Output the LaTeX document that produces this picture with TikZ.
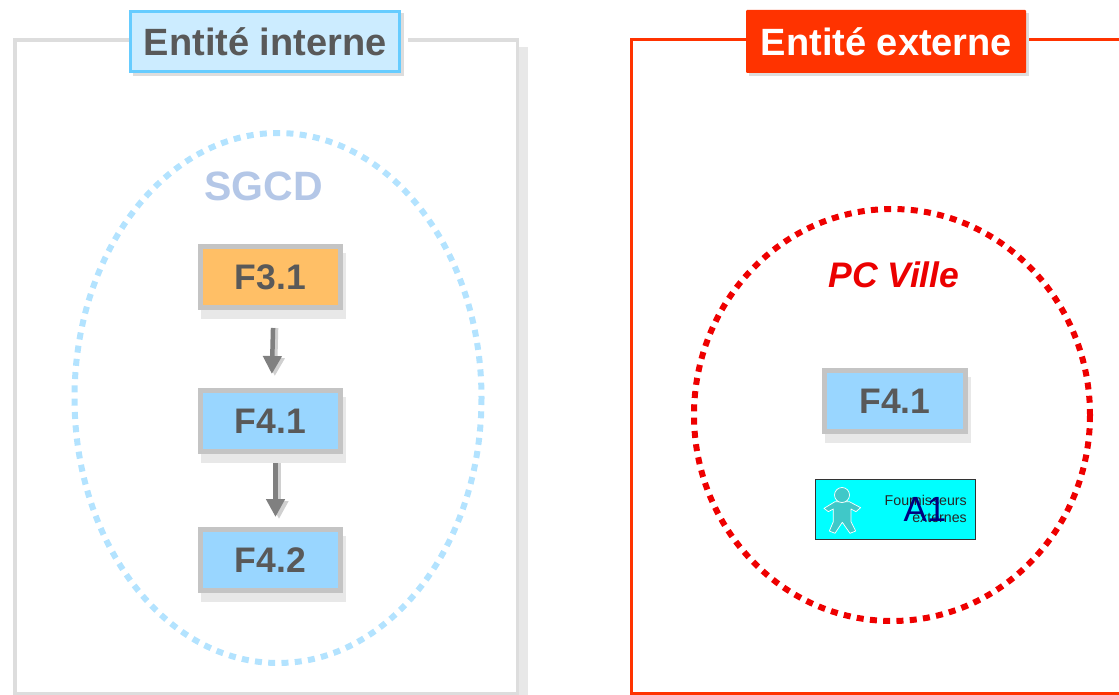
\documentclass[tikz,border=0pt]{standalone}
\usepackage{fontspec}
\setmainfont{Liberation Sans}
\usetikzlibrary{arrows.meta}
\definecolor{txtgray}{HTML}{595959}
\definecolor{framegray}{HTML}{DDDDDD}
\definecolor{shadowgray}{HTML}{E8E8E8}
\definecolor{boxgray}{HTML}{C4C4C4}
\definecolor{fnblue}{HTML}{99D6FF}
\definecolor{fnorange}{HTML}{FFBF66}
\definecolor{titleblue}{HTML}{CCECFF}
\definecolor{titleedge}{HTML}{66CCFF}
\definecolor{extred}{HTML}{FF3300}
\definecolor{dotblue}{HTML}{B3E3FF}
\definecolor{dotred}{HTML}{EE0000}
\definecolor{sgcd}{HTML}{B4C7E7}
\definecolor{arrowgray}{HTML}{808080}
\definecolor{arrowshadow}{HTML}{D0D0D0}
\definecolor{teal}{HTML}{40C8C8}
\definecolor{aqua}{HTML}{00FFFF}
\definecolor{navyink}{HTML}{000080}
\tikzset{
  fnbox/.style={draw=boxgray,line width=5pt,minimum width=140pt,minimum height=61pt,inner sep=0pt,text=txtgray,font=\fontsize{35.5}{38}\selectfont\bfseries},
  fnshadow/.style={fill=shadowgray,draw=none},
  titlebox/.style={minimum width=272pt,minimum height=63pt,inner sep=0pt,font=\fontsize{38}{40}\selectfont\bfseries},
  dotring/.style={line width=6pt,dash pattern=on 7pt off 6.3pt},
  flow/.style={draw=arrowgray,line width=4.5pt,-{Triangle[length=18pt,width=18pt]}},
  flowshade/.style={draw=arrowshadow,line width=4.5pt,-{Triangle[length=18pt,width=18pt]}}
}
\begin{document}
\begin{tikzpicture}[x=1pt,y=-1pt]
\useasboundingbox (0,0) rectangle (1119,695);
% frames
\fill[shadowgray] (519,47) rectangle (528,695);
\draw[framegray,line width=3.5pt] (15,40) rectangle (517.5,693.5);
\draw[extred,line width=3.4pt] (1125,39.5) -- (631.5,39.5) -- (631.5,693.5) -- (1125,693.5);
% title boxes
\fill[white] (404,36) rectangle (408,44);
\fill[framegray] (132.5,13) rectangle (404,76);
\node[titlebox,fill=titleblue,draw=titleedge,line width=3pt,minimum width=269pt,minimum height=60pt,outer sep=1.5pt,text=txtgray] (ti) at (265.3,41.5) {Entité interne};
\fill[white] (1026,30) rectangle (1029,50);
\fill[framegray] (749,13) rectangle (1029,76);
\node[titlebox,fill=extred,minimum width=280pt,rounded corners=1pt,text=white] (te) at (886,41.5) {\hspace{1pt}Entité externe};
% rings
\draw[dotblue,dotring] (278,398) ellipse [x radius=203.5,y radius=265];
\draw[dotred,dotring] (892,415) ellipse [x radius=198,y radius=206];
\node[text=sgcd,font=\fontsize{41}{42}\selectfont\bfseries] (sg) at (263.5,186) {SGCD};
\node[text=red!92!black,font=\fontsize{35.5}{38}\selectfont\bfseries\itshape] (pc) at (894,274.5) {PC Ville};
% shadows of the boxes
\fill[fnshadow] (201,253) rectangle (346,319);
\fill[fnshadow] (201,397) rectangle (346,463);
\fill[fnshadow] (201,536) rectangle (346,602);
\fill[fnshadow] (825,377) rectangle (971,443);
% boxes
\node[fnbox,fill=fnorange] (f31) at (270.5,277) {F3.1};
\node[fnbox,fill=fnblue] (f41) at (270.5,421) {F4.1};
\node[fnbox,fill=fnblue] (f42) at (270.5,560) {F4.2};
\node[fnbox,fill=fnblue,minimum width=141pt] (f41b) at (895,401) {F4.1};
% connectors
\draw[flowshade,shorten <=18pt,shorten >=12pt] ([xshift=6pt]f31.south) -- ([xshift=4pt]f41.north);
\draw[flow,shorten <=18pt,shorten >=14pt] ([xshift=3pt]f31.south) -- ([xshift=1pt]f41.north);
\draw[flowshade,shorten <=9pt,shorten >=8pt] ([xshift=8.5pt]f41.south) -- ([xshift=8.5pt]f42.north);
\draw[flow,shorten <=9pt,shorten >=10pt] ([xshift=5pt]f41.south) -- ([xshift=5pt]f42.north);
% actor box
\node[draw=black!80,fill=aqua,line width=1pt,minimum width=160pt,minimum height=60pt,inner sep=0pt] (a1) at (895,509) {};
\fill[teal,draw=white,line width=.7pt,line join=round,shift={(800,460)},x=.3333pt,y=-.3333pt]
 (105,125) -- (72,145) -- (85,155) -- (100,147) -- (100,185) -- (88,213) -- (105,220) -- (127,187) -- (150,220) -- (167,213) -- (153,185) -- (153,147) -- (168,155) -- (182,143) -- (148,125) -- cycle;
\fill[teal,draw=white,line width=.7pt] (842,495) circle (7.5);
\node[anchor=east,align=right,inner sep=0pt,font=\fontsize{14.2}{17}\selectfont,text=black!85] (fe) at (967,508.5) {Fournisseurs\\externes};
\node[text=navyink,font=\fontsize{35}{38}\selectfont,inner sep=0pt] (a1t) at (925,509) {A1};
\end{tikzpicture}
\end{document}
